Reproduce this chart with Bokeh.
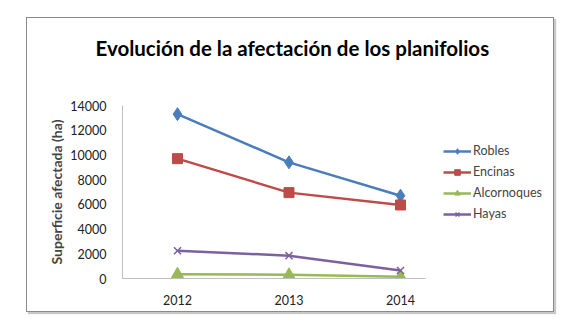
from bokeh.plotting import figure
from bokeh.models import Range1d, FixedTicker, Legend, LegendItem, ColumnDataSource, Title
from bokeh.embed import file_html
from bokeh.resources import INLINE

years = [2012, 2013, 2014]
robles = [13300, 9400, 6700]
encinas = [9700, 6950, 5950]
alcornoques = [350, 300, 150]
hayas = [2250, 1850, 650]
y_ticks = [0, 2000, 4000, 6000, 8000, 10000, 12000, 14000]

FONT = "Lato"
X_START, X_AXIS_END, X_END = 2011.507, 2014.224, 2015.363

p = figure(width=528, height=295, output_backend="svg", toolbar_location=None,
           x_range=Range1d(X_START, X_END), y_range=Range1d(0, 14000),
           min_border_left=95, min_border_right=3, min_border_top=87, min_border_bottom=35,
           title_location=None)
p.margin = (17, 0, 0, 26)
p.styles = {"border": "1px solid #8a8a8a", "box-shadow": "2px 2px 1px #c8c8c8"}
p.outline_line_color = None
p.xgrid.grid_line_color = None
p.ygrid.grid_line_color = None
p.background_fill_color = "white"
p.border_fill_color = "white"

spacer = Title(text=" ", text_font_size="1px", standoff=43)
title = Title(text="Evolución de la afectación de los planifolios",
              text_font=FONT, text_font_size="20.5px", text_font_style="bold",
              align="left", offset=-27, text_color="black", standoff=0)
p.add_layout(spacer, "above")
p.add_layout(title, "above")

p.xaxis.ticker = FixedTicker(ticks=years)
p.xaxis.bounds = (X_START, X_AXIS_END)
p.yaxis.ticker = FixedTicker(ticks=y_ticks)
for ax in (p.xaxis[0], p.yaxis[0]):
    ax.axis_line_color = "#bfbfbf"
    ax.major_tick_line_color = None
    ax.minor_tick_line_color = None
    ax.major_label_text_font = FONT
    ax.major_label_text_font_size = "12.5px"
    ax.major_label_text_color = "#222222"
p.yaxis.axis_label = "Superficie afectada (ha)"
p.yaxis.axis_label_text_font = FONT
p.yaxis.axis_label_text_font_size = "14px"
p.yaxis.axis_label_text_font_style = "bold"
p.yaxis.axis_label_standoff = 2
p.yaxis.major_label_standoff = 10
p.xaxis.major_label_standoff = 10

series = [
    ("Robles", robles, "#4A7EBB", "diamond", 13),
    ("Encinas", encinas, "#BE4B48", "square", 10),
    ("Alcornoques", alcornoques, "#98B954", "triangle", 12),
    ("Hayas", hayas, "#7D60A0", "x", 10),
]
items = []
for name, vals, col, mk, sz in series:
    src = ColumnDataSource(dict(x=years, y=vals))
    l = p.line("x", "y", source=src, line_color=col, line_width=2.5)
    m = p.scatter("x", "y", source=src, marker=mk, size=sz, fill_color=col,
                  line_color=col, line_width=1.5 if mk == "x" else 1)
    items.append(LegendItem(label=name, renderers=[l, m]))

legend = Legend(items=items, border_line_color=None, background_fill_alpha=0,
                label_text_font=FONT, label_text_font_size="12.5px",
                glyph_width=28, glyph_height=14, spacing=6, label_standoff=2,
                padding=0, margin=0, location=(321, 57))
p.add_layout(legend)

open("out.html", "w").write(file_html(p, INLINE))
